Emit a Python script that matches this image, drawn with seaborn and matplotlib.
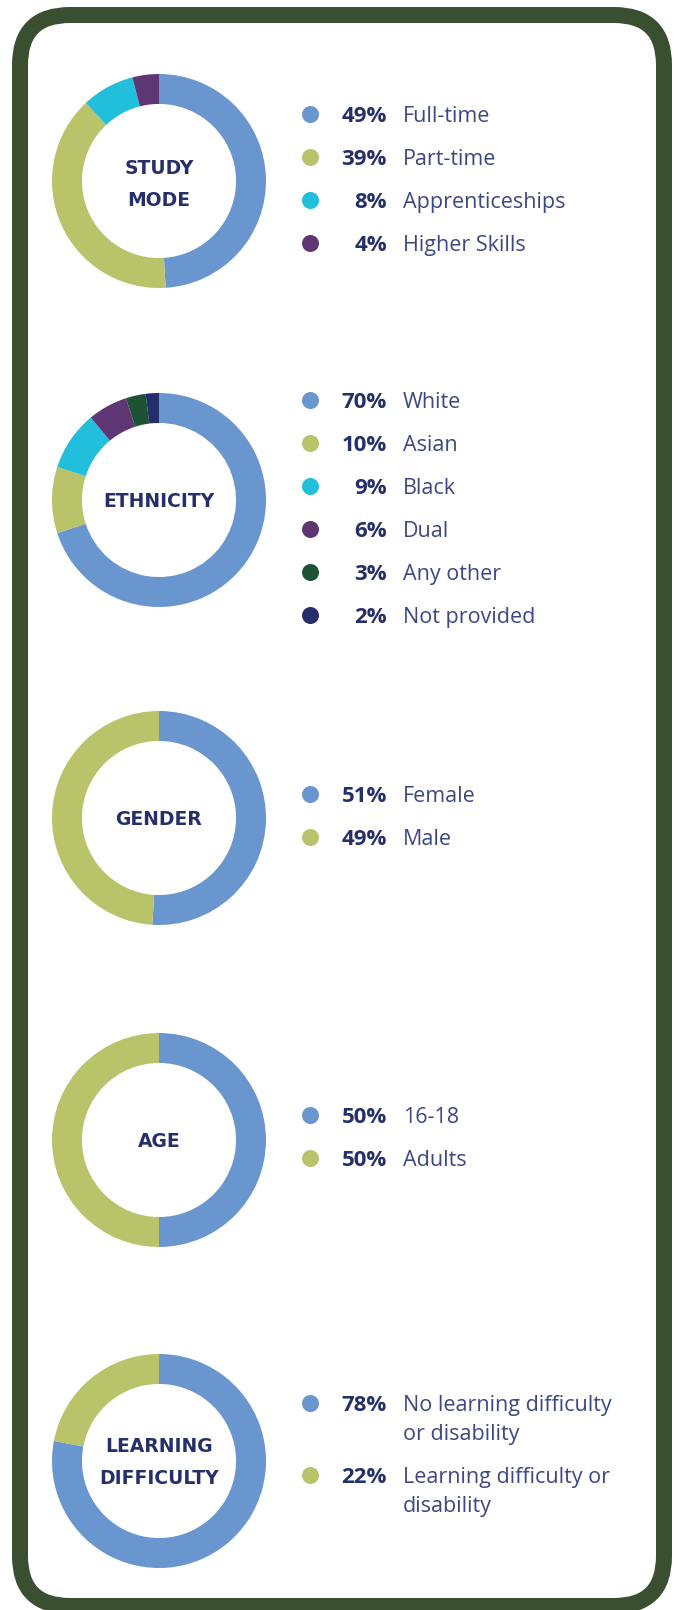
import matplotlib
matplotlib.use("Agg")
import matplotlib.pyplot as plt
from matplotlib.patches import FancyBboxPatch
import seaborn as sns

# Data
study_labels = ['Full-time', 'Part-time', 'Apprenticeships', 'Higher Skills']
study_values = [49, 39, 8, 4]

ethnicity_labels = ['White', 'Asian', 'Black', 'Dual', 'Any other', 'Not provided']
ethnicity_values = [70, 10, 9, 6, 3, 2]

gender_labels = ['Female', 'Male']
gender_values = [51, 49]

age_labels = ['16-18', 'Adults']
age_values = [50, 50]

learning_labels = ['No learning difficulty\nor disability', 'Learning difficulty or\ndisability']
learning_values = [78, 22]

titles = ['STUDY\nMODE', 'ETHNICITY', 'GENDER', 'AGE', 'LEARNING\nDIFFICULTY']

# Styling
PALETTE = ['#6a96cf', '#b9c46a', '#22bfdd', '#5e3673', '#1e5234', '#252d6b']
BORDER = '#3a4e30'
DARK = '#25306b'
LABEL = '#3d4784'

# Layout in pixels (figure is 678 x 1610 at dpi 100)
W, H = 678, 1610
DONUT_X = 159
DONUT_Y = [181, 500, 818, 1140, 1461]
DONUT_R = 107
LEGEND_Y0 = [114, 400, 794, 1115, 1403]
ROW_STEP = 43
LINE_STEP = 29
DOT_X, PCT_X, TXT_X = 310, 387, 403


def main():
    sns.set_theme(style='white')
    plt.rcParams['font.family'] = ['Open Sans', 'DejaVu Sans']

    fig = plt.figure(figsize=(W / 100, H / 100), dpi=100)
    fig.patch.set_facecolor('white')

    # overlay in pixel coordinates, y downwards
    over = fig.add_axes([0, 0, 1, 1])
    over.set_xlim(0, W)
    over.set_ylim(H, 0)
    over.axis('off')

    frame = FancyBboxPatch((20, 15), 644, 1591, boxstyle='round,pad=0,rounding_size=50',
                           fill=False, edgecolor=BORDER, linewidth=16 * 0.72)
    over.add_patch(frame)

    panels = [
        (study_labels, study_values),
        (ethnicity_labels, ethnicity_values),
        (gender_labels, gender_values),
        (age_labels, age_values),
        (learning_labels, learning_values),
    ]
    colors = sns.color_palette(PALETTE)

    for i, (labels, values) in enumerate(panels):
        cy = DONUT_Y[i]
        ax = fig.add_axes([(DONUT_X - DONUT_R) / W, 1 - (cy + DONUT_R) / H,
                           2 * DONUT_R / W, 2 * DONUT_R / H])
        ax.pie(values, colors=colors[:len(values)], startangle=90, counterclock=False,
               radius=1, wedgeprops=dict(width=0.28, linewidth=0))
        ax.set_xlim(-1, 1)
        ax.set_ylim(-1, 1)
        ax.set_aspect('equal')
        ax.axis('off')

        # center title
        lines = titles[i].split('\n')
        n = len(lines)
        for j, line in enumerate(lines):
            yc = cy + (j - (n - 1) / 2) * 32 + (2 if n > 1 and i == 0 else 0)
            over.text(DONUT_X, yc + 7, line, ha='center', va='baseline',
                      fontsize=13.5, fontweight='bold', color=DARK,
                      family=['DejaVu Sans'])

        # legend
        y = LEGEND_Y0[i]
        for k, (lab, val) in enumerate(zip(labels, values)):
            over.scatter([DOT_X], [y], s=150, color=colors[k], linewidths=0, zorder=3)
            over.text(PCT_X, y + 8, f'{val}%', ha='right', va='baseline',
                      fontsize=16, fontweight='bold', color=DARK)
            sub = lab.split('\n')
            for m, line in enumerate(sub):
                over.text(TXT_X, y + 8 + m * LINE_STEP, line, ha='left', va='baseline',
                          fontsize=15.5, color=LABEL)
            y += ROW_STEP + LINE_STEP * (len(sub) - 1)

    fig.savefig('out.png', dpi=100, facecolor='white')


if __name__ == '__main__':
    main()
